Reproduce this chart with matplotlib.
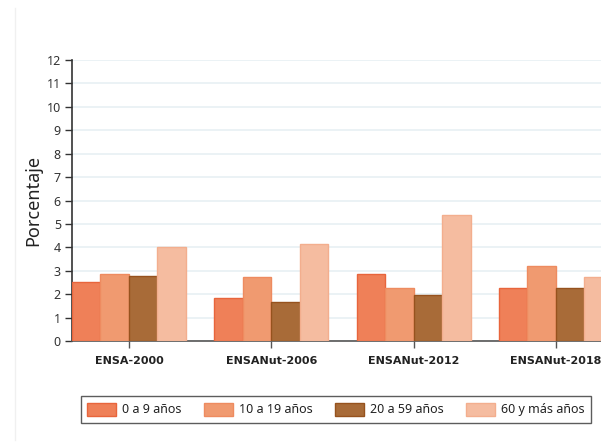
import matplotlib
matplotlib.use("Agg")
import matplotlib.pyplot as plt
import numpy as np
from matplotlib.lines import Line2D

categories = ["ENSA-2000", "ENSANut-2006", "ENSANut-2012", "ENSANut-2018"]
series_names = ["0 a 9 años", "10 a 19 años", "20 a 59 años", "60 y más años"]
s0 = [2.53, 1.84, 2.85, 2.25]
s1 = [2.85, 2.72, 2.28, 3.19]
s2 = [2.78, 1.65, 1.95, 2.28]
s3 = [4.00, 4.16, 5.38, 2.72]
series = [s0, s1, s2, s3]
yticks = list(range(0, 13))

fills = ["#EF8058", "#F09A70", "#A86B38", "#F5BCA0"]
edges = ["#E8653C", "#EE8B60", "#96521E", "#F3AE8E"]

plt.rcParams['font.family'] = ['Noto Sans', 'DejaVu Sans']

fig = plt.figure(figsize=(6.01, 4.44), dpi=100)
W, H = 601, 444
ax = fig.add_axes([72 / W, 103 / H, (601 - 72) / W, 281 / H])

x = np.arange(len(categories))
bw = 0.2
for i, (vals, fc, ec, nm) in enumerate(zip(series, fills, edges, series_names)):
    ax.bar(x - 0.3 + i * bw, vals, width=bw, color=fc, edgecolor=ec,
           linewidth=1.0, label=nm, zorder=3)

ax.set_xlim(-0.4, (601 - 130) / 142)
ax.set_ylim(0, 12)
ax.set_yticks(yticks)
ax.set_yticklabels([str(t) for t in yticks], fontsize=9, color="#333333")
ax.set_xticks(x)
ax.set_xticklabels(categories, fontsize=8, fontweight="bold", color="#222222",
                   family=["DejaVu Sans"])
ax.tick_params(axis="y", length=5, width=1, color="#333333", pad=3)
ax.tick_params(axis="x", length=5, width=1, color="#555555", pad=6)
ax.grid(axis="y", color="#E8F0F3", linewidth=1.2, zorder=0)
ax.set_axisbelow(True)
for sp in ["top", "right"]:
    ax.spines[sp].set_visible(False)
ax.spines["left"].set_color("#333333")
ax.spines["bottom"].set_color("#555555")
ax.spines["left"].set_linewidth(1.2)
ax.spines["bottom"].set_linewidth(1.2)
ax.set_ylabel("Porcentaje", fontsize=13, color="#222222", labelpad=3)

fig.add_artist(Line2D([14.5 / W, 14.5 / W], [4 / H, 436 / H], color="#F0F0F0", linewidth=1))

leg = fig.legend(loc="center", bbox_to_anchor=(336 / W, 1 - 409.5 / H), ncol=4,
                 fontsize=9, frameon=True, fancybox=False, edgecolor="#333333",
                 handlelength=2.3, handleheight=1.2, columnspacing=1.8,
                 handletextpad=0.5, borderpad=0.5)
leg.get_frame().set_linewidth(1.0)
for t in leg.get_texts():
    t.set_color("#222222")

fig.savefig("out.png", dpi=100)
